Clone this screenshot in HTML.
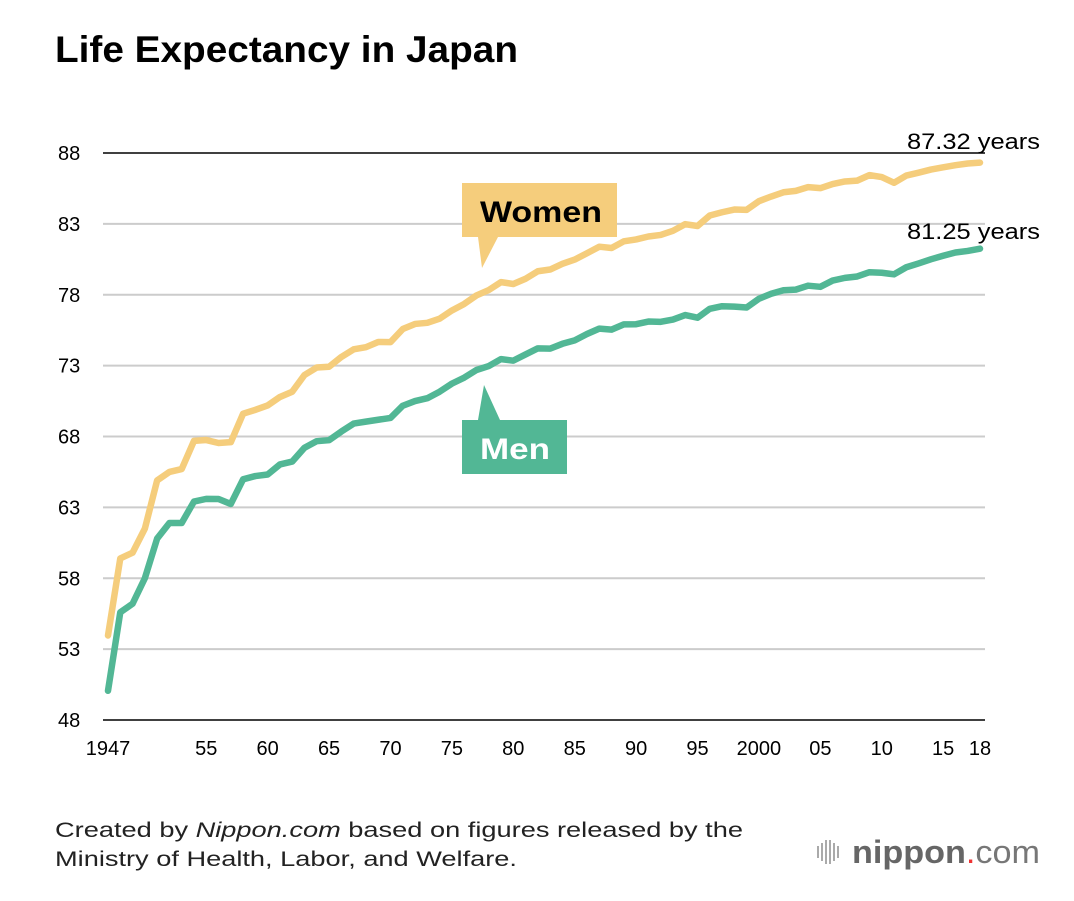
<!DOCTYPE html>
<html><head><meta charset="utf-8">
<style>
body{margin:0;background:#fff;font-family:"Liberation Sans",Arial,sans-serif;}
svg text{font-family:"Liberation Sans",Arial,sans-serif;}
</style></head>
<body>
<svg id="chart" width="1074" height="896" viewBox="0 0 1074 896">
<text x="55" y="62" font-size="37" font-weight="bold" fill="#000" textLength="463" lengthAdjust="spacingAndGlyphs">Life Expectancy in Japan</text>
<g id="grid"></g>
<g id="xticks"></g>
<g id="lines"></g>
<g>
<rect x="462" y="183" width="155" height="54" fill="#f5cd7c"/>
<polygon points="478,237 498,237 482,268" fill="#f5cd7c"/>
<text x="480" y="222" font-size="30" font-weight="bold" fill="#000" textLength="122" lengthAdjust="spacingAndGlyphs">Women</text>
</g>
<g>
<rect x="462" y="420" width="105" height="54" fill="#52b795"/>
<polygon points="484,385 478,420 500,420" fill="#52b795"/>
<text x="480" y="459" font-size="30" font-weight="bold" fill="#fff" textLength="70" lengthAdjust="spacingAndGlyphs">Men</text>
</g>
<text x="907" y="149" font-size="22" fill="#000" textLength="133" lengthAdjust="spacingAndGlyphs">87.32 years</text>
<text x="907" y="239" font-size="22" fill="#000" textLength="133" lengthAdjust="spacingAndGlyphs">81.25 years</text>
<text x="55" y="837" font-size="21" fill="#222" textLength="688" lengthAdjust="spacingAndGlyphs">Created by <tspan font-style="italic">Nippon.com</tspan> based on figures released by the</text>
<text x="55" y="866" font-size="21" fill="#222" textLength="462" lengthAdjust="spacingAndGlyphs">Ministry of Health, Labor, and Welfare.</text>
<g>
<g stroke="#aaa" stroke-width="2">
<line x1="818" y1="846" x2="818" y2="858"/><line x1="822" y1="843" x2="822" y2="861"/><line x1="826" y1="840" x2="826" y2="864"/><line x1="830" y1="840" x2="830" y2="864"/><line x1="834" y1="843" x2="834" y2="861"/><line x1="838" y1="846" x2="838" y2="858"/>
</g>
<text x="852" y="863" font-size="32" fill="#666" textLength="188" lengthAdjust="spacingAndGlyphs"><tspan font-weight="bold">nippon</tspan><tspan fill="#e33">.</tspan><tspan fill="#777">com</tspan></text>
</g>
</svg>
<script>
const years = [];
for (let y = 1947; y <= 2018; y++) years.push(y);
const women = [53.96,59.4,59.8,61.5,64.9,65.5,65.7,67.69,67.75,67.54,67.60,69.61,69.88,70.19,70.79,71.16,72.34,72.87,72.92,73.61,74.15,74.30,74.67,74.66,75.58,75.94,76.02,76.31,76.89,77.35,77.95,78.33,78.89,78.76,79.13,79.66,79.78,80.18,80.48,80.93,81.39,81.30,81.77,81.90,82.11,82.22,82.51,82.98,82.85,83.59,83.82,84.01,83.99,84.60,84.93,85.23,85.33,85.59,85.52,85.81,85.99,86.05,86.44,86.30,85.90,86.41,86.61,86.83,86.99,87.14,87.26,87.32];
const men = [50.06,55.6,56.2,58.0,60.8,61.9,61.9,63.41,63.60,63.59,63.24,64.98,65.21,65.32,66.03,66.23,67.21,67.67,67.74,68.35,68.91,69.05,69.18,69.31,70.17,70.50,70.70,71.16,71.73,72.15,72.69,72.97,73.46,73.35,73.79,74.22,74.20,74.54,74.78,75.23,75.61,75.54,75.91,75.92,76.11,76.09,76.25,76.57,76.38,77.01,77.19,77.16,77.10,77.72,78.07,78.32,78.36,78.64,78.56,79.00,79.19,79.29,79.59,79.55,79.44,79.94,80.21,80.50,80.75,80.98,81.09,81.25];
const yTicks = [48,53,58,63,68,73,78,83,88];
const xTickYears = [1947,1955,1960,1965,1970,1975,1980,1985,1990,1995,2000,2005,2010,2015,2018];
const xTickLabels = ["1947","55","60","65","70","75","80","85","90","95","2000","05","10","15","18"];

const NS = "http://www.w3.org/2000/svg";
const xS = yr => 108 + (yr - 1947) * (980 - 108) / 71;
const yS = v => 720 - (v - 48) * (720 - 153) / 40;

const grid = document.getElementById('grid');
yTicks.forEach(t => {
  const l = document.createElementNS(NS, 'line');
  l.setAttribute('x1', 103); l.setAttribute('x2', 985);
  l.setAttribute('y1', yS(t)); l.setAttribute('y2', yS(t));
  l.setAttribute('stroke', t === 88 || t === 48 ? '#000' : '#ccc');
  l.setAttribute('stroke-width', t === 88 || t === 48 ? 1.5 : 2);
  
  
  grid.appendChild(l);
  const tx = document.createElementNS(NS, 'text');
  tx.setAttribute('x', 58); tx.setAttribute('y', yS(t) + 7);
  tx.setAttribute('font-size', 20);
  tx.textContent = t;
  
  
  grid.appendChild(tx);
});

const xg = document.getElementById('xticks');
xTickYears.forEach((yr, i) => {
  const tx = document.createElementNS(NS, 'text');
  tx.setAttribute('x', xS(yr)); tx.setAttribute('y', 755);
  tx.setAttribute('font-size', 20);
  tx.setAttribute('text-anchor', 'middle');
  tx.textContent = xTickLabels[i];
  
  
  xg.appendChild(tx);
});

const lg = document.getElementById('lines');
function drawLine(vals, color, name) {
  const p = document.createElementNS(NS, 'polyline');
  p.setAttribute('points', vals.map((v, i) => xS(years[i]) + ',' + yS(v)).join(' '));
  p.setAttribute('fill', 'none');
  p.setAttribute('stroke', color);
  p.setAttribute('stroke-width', 6.5);
  p.setAttribute('stroke-linejoin', 'round');
  p.setAttribute('stroke-linecap', 'round');
  
  
  lg.appendChild(p);
}
drawLine(women, '#f5cd7c', 'women-line');
drawLine(men, '#52b795', 'men-line');
</script>
</body></html>
